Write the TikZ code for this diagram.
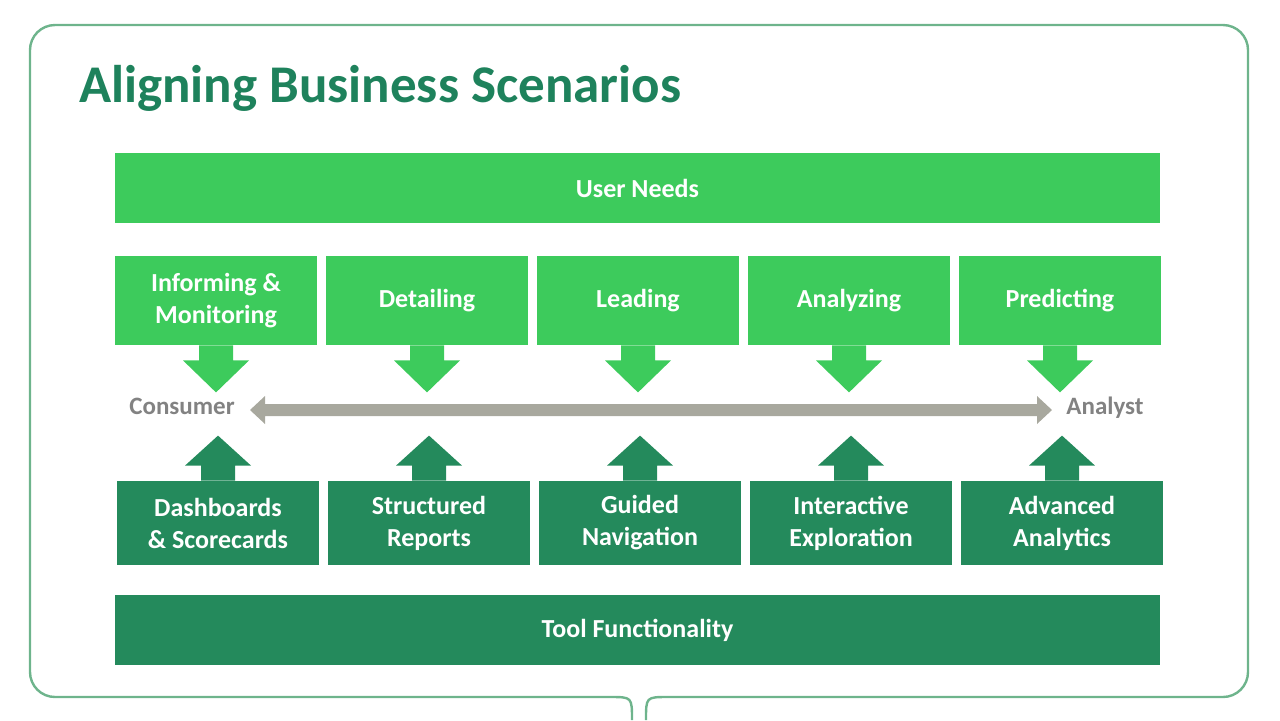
\documentclass[tikz,border=0pt]{standalone}
\usepackage{fontspec}
\setmainfont{Carlito}
\usetikzlibrary{positioning,calc}
\definecolor{needgreen}{RGB}{61,203,92}
\definecolor{toolgreen}{RGB}{36,138,92}
\definecolor{titlegreen}{RGB}{30,130,92}
\definecolor{framegreen}{RGB}{110,180,140}
\definecolor{axisgrey}{RGB}{168,168,158}
\definecolor{labelgrey}{RGB}{130,130,130}
\tikzset{
  bar/.style={rectangle, inner sep=0pt, minimum width=522.5pt, minimum height=35pt, text=white, font=\fontsize{13}{15}\selectfont\bfseries},
  need/.style={rectangle, inner sep=0pt, fill=needgreen, minimum width=101pt, minimum height=44.5pt, text=white, align=center, font=\fontsize{13}{16}\selectfont\bfseries},
  tool/.style={rectangle, inner sep=0pt, fill=toolgreen, minimum width=101pt, minimum height=42pt, text=white, align=center, font=\fontsize{13}{16}\selectfont\bfseries},
  endlabel/.style={text=labelgrey, font=\fontsize{12.5}{14}\selectfont\bfseries}
}
\begin{document}
\begin{tikzpicture}[x=0.5pt, y=-0.5pt]
\useasboundingbox (0,0) rectangle (1280,720);
% frame
\draw[framegreen, line width=1.2] (632,720) .. controls (632,697) .. (610,697) -- (55,697)
  arc[start angle=90, end angle=180, radius=25] -- (30,50)
  arc[start angle=180, end angle=270, radius=25] -- (1223,25)
  arc[start angle=270, end angle=360, radius=25] -- (1248,672)
  arc[start angle=0, end angle=90, radius=25] -- (668,697) .. controls (646,697) .. (646,720);
\node (title) [anchor=west, text=titlegreen, font=\fontsize{26.5}{30}\selectfont\bfseries] at (72,88) {Aligning Business Scenarios};

\node (userneeds) [bar, fill=needgreen] at (637.5,188) {User Needs};
\node (toolfunc) [bar, fill=toolgreen] at (637.5,630) {Tool Functionality};

% scenario columns
\foreach \i/\x/\up/\down in {1/216/{Informing \&\\Monitoring}/{Dashboards\\\& Scorecards},
    2/427/Detailing/{Structured\\Reports},
    3/638/Leading/{Guided\\Navigation},
    4/849/Analyzing/{Interactive\\Exploration},
    5/1060/Predicting/{Advanced\\Analytics}} {
  \node (need\i) [need] at (\x,300.5) {\up};
  \node (tool\i) [tool] at (\x+2,523) {\down};
  \fill[needgreen] ($(need\i.south)+(-17,0)$) -- ++(0,15) -- ++(-16,0) -- ($(need\i.south)+(0,47)$)
    -- ($(need\i.south)+(33,15)$) -- ++(-16,0) -- ++(0,-15) -- cycle;
  \fill[toolgreen] ($(tool\i.north)+(-17,0)$) -- ++(0,-15) -- ++(-16,0) -- ($(tool\i.north)+(0,-45)$)
    -- ($(tool\i.north)+(33,-15)$) -- ++(-16,0) -- ++(0,15) -- cycle;
}

% consumer / analyst axis
\node (consumer) [endlabel] at (182,406) {Consumer};
\node (analyst) [endlabel] at (1105,408) {Analyst};
\coordinate (axisl) at (250,410);
\coordinate (axisr) at (1052,410);
\fill[axisgrey] (axisl) -- ++(15,-14) -- ++(0,8) -- ($(axisr)+(-15,-6)$) -- ++(0,-8) -- (axisr)
  -- ++(-15,14) -- ++(0,-8) -- ($(axisl)+(15,6)$) -- ++(0,8) -- cycle;
\end{tikzpicture}
\end{document}
